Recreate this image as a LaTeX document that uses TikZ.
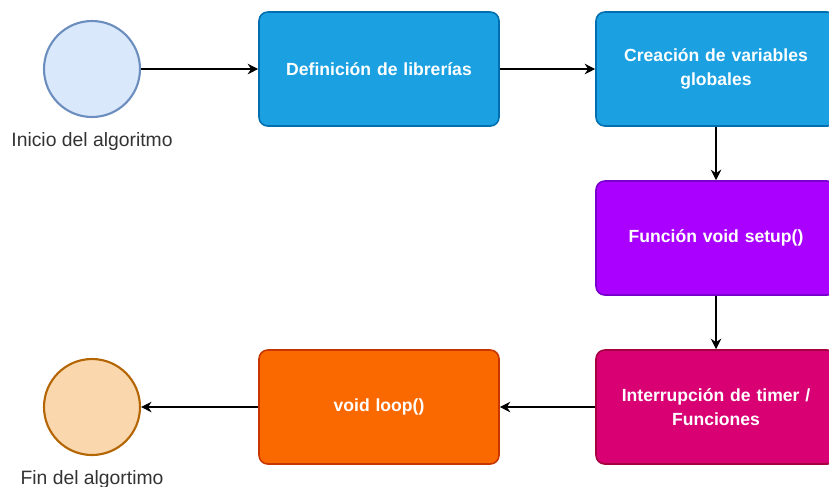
\documentclass[tikz,border=0pt]{standalone}
\usepackage{fontspec}
\setmainfont{Liberation Sans}
\usetikzlibrary{arrows.meta}

\definecolor{startfill}{HTML}{DAE8FC}
\definecolor{startline}{HTML}{6C8EBF}
\definecolor{endfill}{HTML}{FAD7AC}
\definecolor{endline}{HTML}{B46504}
\definecolor{bluefill}{HTML}{1BA1E2}
\definecolor{blueline}{HTML}{006EAF}
\definecolor{purplefill}{HTML}{AA00FF}
\definecolor{purpleline}{HTML}{7700CC}
\definecolor{pinkfill}{HTML}{D80073}
\definecolor{pinkline}{HTML}{A50040}
\definecolor{orangefill}{HTML}{FA6800}
\definecolor{orangeline}{HTML}{C73500}
\definecolor{labelgray}{HTML}{333333}

\tikzset{
  stepbox/.style={draw, line width=0.9pt, rounded corners=5pt, minimum width=4.8cm,
    minimum height=2.28cm, text=white, font=\fontsize{10}{13.6}\selectfont\bfseries,
    align=center, text width=4.4cm},
  endpoint/.style={circle, line width=1.2pt, minimum size=1.92cm, inner sep=0pt},
  caption/.style={text=labelgray, font=\fontsize{11}{13}\selectfont},
  flow/.style={-{Stealth[length=6pt,width=6pt]}, line width=0.7pt}
}

\begin{document}
\begin{tikzpicture}
\useasboundingbox (0, 0) rectangle (16.58, -9.72);

% Start and end of the algorithm
\node[endpoint, draw=startline, fill=startfill] (inicio) at (1.84, -1.38) {};
\node[caption] (inicioLabel) at (1.84, -2.82) {Inicio del algoritmo};
\node[endpoint, draw=endline, fill=endfill] (fin) at (1.84, -8.14) {};
\node[caption] (finLabel) at (1.84, -9.58) {Fin del algortimo};

% Steps
\node[stepbox, draw=blueline, fill=bluefill] (librerias) at (7.58, -1.38) {Definición de librerías};
\node[stepbox, draw=blueline, fill=bluefill] (variables) at (14.32, -1.38) {Creación de variables\\globales};
\node[stepbox, draw=purpleline, fill=purplefill] (setup) at (14.32, -4.76) {Función void setup()};
\node[stepbox, draw=pinkline, fill=pinkfill] (timer) at (14.32, -8.14) {Interrupción de timer /\\Funciones};
\node[stepbox, draw=orangeline, fill=orangefill] (loop) at (7.58, -8.14) {void loop()};

% Connections
\draw[flow] (inicio) -- (librerias);
\draw[flow] (librerias) -- (variables);
\draw[flow] (variables) -- (setup);
\draw[flow] (setup) -- (timer);
\draw[flow] (timer) -- (loop);
\draw[flow] (loop) -- (fin);
\end{tikzpicture}
\end{document}
